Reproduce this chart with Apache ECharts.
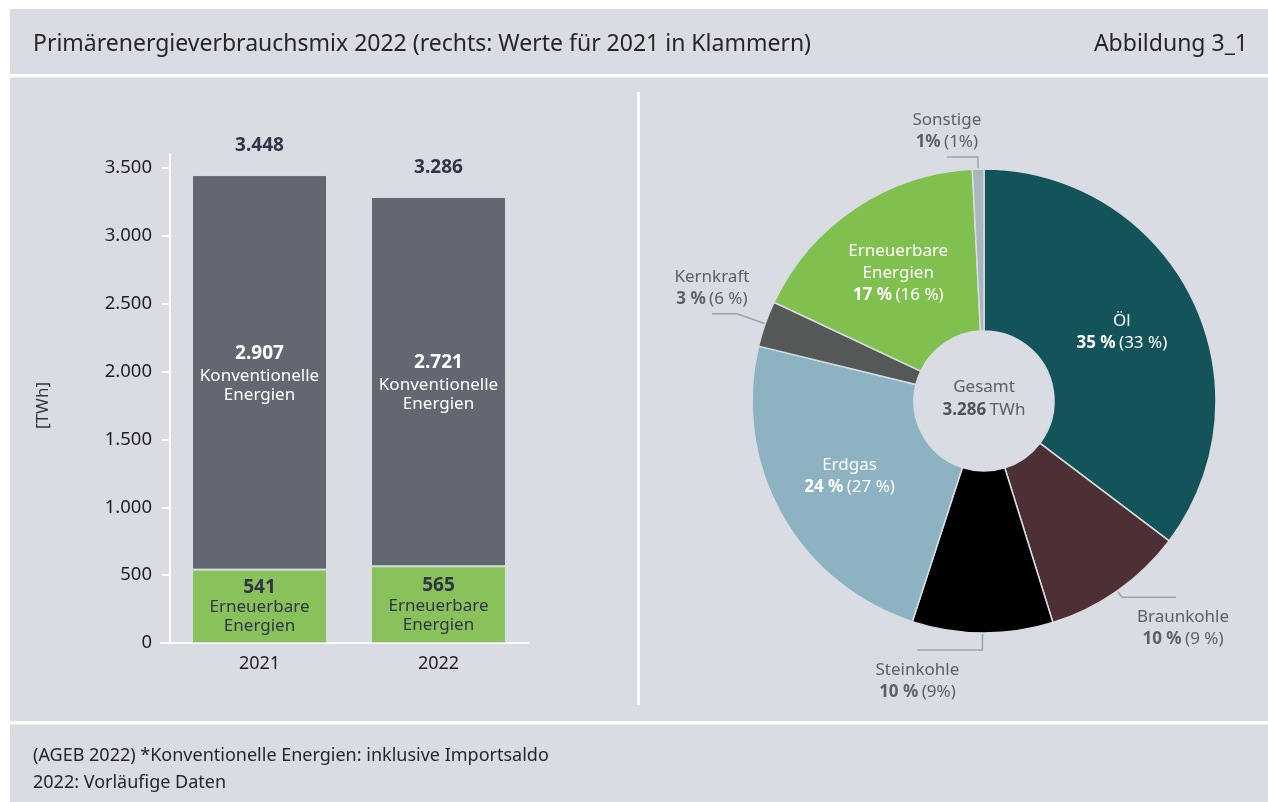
<!DOCTYPE html>
<html>
<head>
<meta charset="utf-8">
<script src="https://cdn.jsdelivr.net/npm/echarts@6/dist/echarts.min.js"></script>
<style>
  html, body { margin: 0; padding: 0; background: #fff; }
  #chart { width: 1268px; height: 802px; }
</style>
</head>
<body>
<div id="chart"></div>
<script>
// Balken links: Primärenergieverbrauch in TWh
const jahre = ['2021', '2022'];
const erneuerbar = [541, 565];
const konventionell = [2907, 2721];
const gesamt = [3448, 3286];

// Ring rechts: Anteile 2022 (Beschriftung 2022 und 2021 in Klammern)
const mixNamen = ['Öl', 'Braunkohle', 'Steinkohle', 'Erdgas', 'Kernkraft', 'Erneuerbare\nEnergien', 'Sonstige'];
const mixWerte = [35.3, 9.9, 9.8, 23.8, 3.2, 17.2, 0.8];
const mixText2022 = ['35 %', '10 %', '10 %', '24 %', '3 %', '17 %', '1%'];
const mixText2021 = ['(33 %)', '(9 %)', '(9%)', '(27 %)', '(6 %)', '(16 %)', '(1%)'];
const mixFarben = ['#13545a', '#4d3033', '#000000', '#8db3c3', '#545957', '#7fc04f', '#a9b6be'];

const FONT = 'Noto Sans';
const BG = '#d9dce3';

// Führungslinien der außen beschrifteten Segmente [length, length2]
const aussen = {
  'Sonstige': [12, 31],
  'Kernkraft': [30, 25],
  'Braunkohle': [8, 54],
  'Steinkohle': [17, 65]
};

function tsd(v) {
  return String(v).replace(/\B(?=(\d{3})+(?!\d))/g, '.');
}

const chart = echarts.init(document.getElementById('chart'));

const pieData = mixNamen.map((name, i) => {
  const out = aussen[name];
  const col = out ? '#5c5f67' : '#ffffff';
  return {
    name: name,
    value: mixWerte[i],
    itemStyle: { color: mixFarben[i] },
    label: {
      position: out ? 'outside' : 'inside',
      rich: {
        n: { color: col, fontSize: 17, fontFamily: FONT, lineHeight: 22 },
        b: { color: col, fontSize: 17, fontFamily: FONT, fontWeight: 'bold', lineHeight: 22 },
        p: { color: col, fontSize: 17, fontFamily: FONT, lineHeight: 22 }
      }
    },
    labelLine: out ? { show: true, length: out[0], length2: out[1] } : { show: false }
  };
});

chart.setOption({
  animation: false,
  graphic: [
    { type: 'rect', z: -10, shape: { x: 10, y: 9, width: 1258, height: 793 }, style: { fill: BG } },
    { type: 'rect', z: -9, shape: { x: 10, y: 74, width: 1258, height: 3.5 }, style: { fill: '#ffffff' } },
    { type: 'rect', z: -9, shape: { x: 10, y: 721, width: 1258, height: 3.5 }, style: { fill: '#ffffff' } },
    { type: 'rect', z: -9, shape: { x: 637, y: 92, width: 3, height: 613 }, style: { fill: '#ffffff' } },
    { type: 'line', z: 5, shape: { x1: 170, y1: 153, x2: 170, y2: 168 }, style: { stroke: '#ffffff', lineWidth: 2 } },
    { type: 'line', z: 5, shape: { x1: 160, y1: 643, x2: 170, y2: 643 }, style: { stroke: '#ffffff', lineWidth: 2 } },
    {
      type: 'text', x: 33, y: 44,
      style: { text: 'Primärenergieverbrauchsmix 2022 (rechts: Werte für 2021 in Klammern)', fontSize: 23, fontFamily: FONT, fill: '#262626', verticalAlign: 'middle' }
    },
    {
      type: 'text', x: 1248, y: 44,
      style: { text: 'Abbildung 3_1', fontSize: 23, fontFamily: FONT, fill: '#262626', align: 'right', verticalAlign: 'middle' }
    },
    {
      type: 'text', x: 33, y: 756,
      style: { text: '(AGEB 2022) *Konventionelle Energien: inklusive Importsaldo', fontSize: 18, fontFamily: FONT, fill: '#262626', verticalAlign: 'middle' }
    },
    {
      type: 'text', x: 33, y: 783,
      style: { text: '2022: Vorläufige Daten', fontSize: 18, fontFamily: FONT, fill: '#262626', verticalAlign: 'middle' }
    },
    {
      type: 'text', x: 984, y: 399,
      style: {
        text: '{a|Gesamt}\n{b|' + tsd(gesamt[1]) + '} {a|TWh}',
        align: 'center', verticalAlign: 'middle',
        rich: {
          a: { fontSize: 17, fontFamily: FONT, fill: '#5c5f67', lineHeight: 23 },
          b: { fontSize: 17, fontFamily: FONT, fill: '#4f5259', fontWeight: 'bold', lineHeight: 23 }
        }
      }
    }
  ],
  grid: { left: 170, right: 740, top: 168, bottom: 159 },
  xAxis: {
    type: 'category',
    data: jahre,
    axisLine: { lineStyle: { color: '#ffffff', width: 2 } },
    axisTick: { alignWithLabel: true, length: 8, lineStyle: { color: '#ffffff', width: 2 } },
    axisLabel: { margin: 12, fontSize: 18, fontFamily: FONT, color: '#1f1f1f' }
  },
  yAxis: {
    type: 'value',
    min: 0, max: 3500, interval: 500,
    name: '[TWh]',
    nameLocation: 'middle',
    nameRotate: 90,
    nameGap: 118,
    nameTextStyle: { fontSize: 17, fontFamily: FONT, color: '#333333' },
    axisLine: { show: true, lineStyle: { color: '#ffffff', width: 2 } },
    axisTick: { show: true, length: 8, lineStyle: { color: '#ffffff', width: 2 } },
    splitLine: { show: false },
    axisLabel: { margin: 18, fontSize: 18.5, fontFamily: FONT, color: '#1f1f1f', formatter: (v) => tsd(v) }
  },
  series: [
    {
      name: 'Erneuerbare Energien',
      type: 'bar',
      stack: 'pev',
      barWidth: 135,
      data: erneuerbar,
      itemStyle: { color: '#89c25a', borderColor: BG, borderWidth: 1 },
      label: {
        show: true, position: 'inside',
        formatter: (p) => '{v|' + tsd(p.value) + '}\n{t|Erneuerbare}\n{t|Energien}',
        rich: {
          v: { fontSize: 19, fontWeight: 'bold', fontFamily: FONT, color: '#2f3447', lineHeight: 21 },
          t: { fontSize: 17, fontFamily: FONT, color: '#2f3447', lineHeight: 19 }
        }
      }
    },
    {
      name: 'Konventionelle Energien',
      type: 'bar',
      stack: 'pev',
      barWidth: 135,
      data: konventionell,
      itemStyle: { color: '#636772', borderColor: BG, borderWidth: 1 },
      label: {
        show: true, position: 'inside',
        formatter: (p) => '{v|' + tsd(p.value) + '}\n{t|Konventionelle}\n{t|Energien}',
        rich: {
          v: { fontSize: 19, fontWeight: 'bold', fontFamily: FONT, color: '#ffffff', lineHeight: 26 },
          t: { fontSize: 17, fontFamily: FONT, color: '#ffffff', lineHeight: 19 }
        }
      }
    },
    {
      name: 'Gesamt',
      type: 'bar',
      barWidth: 135,
      barGap: '-100%',
      z: 1,
      silent: true,
      data: gesamt,
      itemStyle: { color: 'rgba(0,0,0,0)' },
      label: {
        show: true, position: 'top', distance: 20,
        formatter: (p) => tsd(p.value),
        fontSize: 19, fontWeight: 'bold', fontFamily: FONT, color: '#2f3447'
      }
    },
    {
      name: 'Primärenergiemix 2022',
      type: 'pie',
      center: [984, 401],
      radius: [70, 232],
      startAngle: 90,
      clockwise: true,
      avoidLabelOverlap: false,
      emphasis: { disabled: true },
      itemStyle: { borderColor: BG, borderWidth: 1.5 },
      label: {
        show: true,
        distanceToLabelLine: 0,
        formatter: (p) => {
          const i = p.dataIndex;
          const kopf = mixNamen[i].split('\n').map((s) => '{n|' + s + '}').join('\n');
          return kopf + '\n{b|' + mixText2022[i] + '} {p|' + mixText2021[i] + '}';
        }
      },
      labelLine: { smooth: false, lineStyle: { color: '#9da2b2', width: 1.5 } },
      labelLayout: (params) => {
        const name = mixNamen[params.dataIndex];
        if (!aussen[name] || !params.labelLinePoints) return {};
        const pts = params.labelLinePoints;
        const down = pts[1][1] > pts[0][1];
        return {
          align: 'center',
          verticalAlign: down ? 'top' : 'bottom',
          dy: down ? 9 : -4,
          dx: name === 'Braunkohle' ? 7 : 0
        };
      },
      data: pieData
    }
  ]
});
</script>
</body>
</html>
